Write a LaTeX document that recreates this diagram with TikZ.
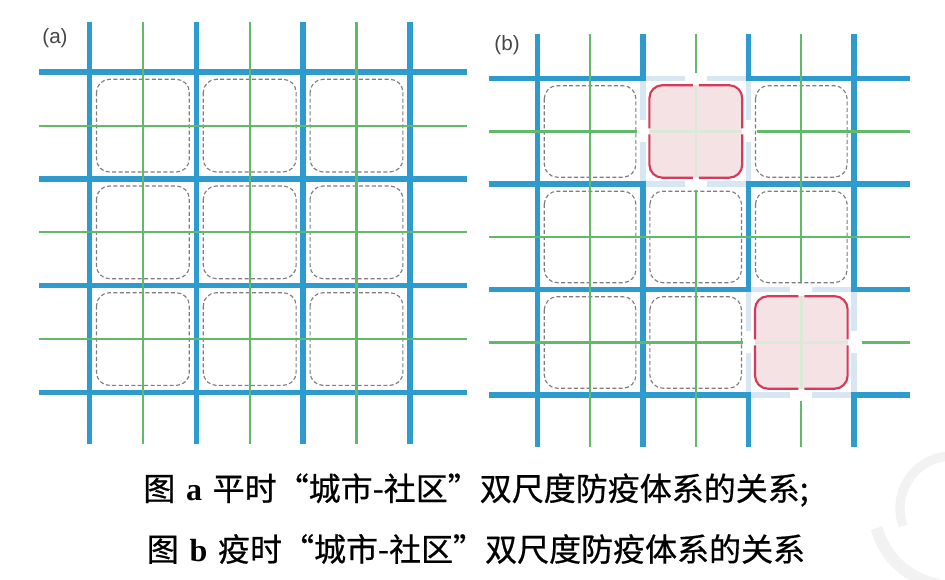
\documentclass[tikz,border=0pt]{standalone}
\usepackage{fontspec}
\newfontfamily\cjkfont{Noto Sans CJK SC}[FakeBold=0.6]
\newfontfamily\lsans{Liberation Sans}
\newfontfamily\lserif{Liberation Serif}
\definecolor{roadblue}{RGB}{45,155,205}
\definecolor{lightroad}{RGB}{214,230,243}
\definecolor{streetgreen}{RGB}{96,186,104}
\definecolor{palegreen}{RGB}{218,234,214}
\definecolor{qred}{RGB}{214,58,88}
\definecolor{qpink}{RGB}{244,226,228}
\definecolor{dashgray}{RGB}{125,125,125}
\definecolor{labelgray}{RGB}{70,70,70}
\definecolor{wmgray}{RGB}{242,242,242}
\newcommand\qbox[4]{%
  \pgfmathsetmacro\qcx{(#1+#3)/2}%
  \pgfmathsetmacro\qcy{(#2+#4)/2}%
  \fill[qpink, rounded corners=9.75pt] (#1,#2) rectangle (#3,#4);
  \draw[paleline] (\qcx,#2) -- (\qcx,#4);
  \draw[paleline] (#1,\qcy) -- (#3,\qcy);
  \draw[qborder] (\qcx-3,#2) -- (#1,#2) -- (#1,\qcy-3);
  \draw[qborder] (\qcx+3,#2) -- (#3,#2) -- (#3,\qcy-3);
  \draw[qborder] (\qcx-3,#4) -- (#1,#4) -- (#1,\qcy+3);
  \draw[qborder] (\qcx+3,#4) -- (#3,#4) -- (#3,\qcy+3);
}
\newcommand\lightsides[4]{%
  \pgfmathsetmacro\qcx{(#1+#3)/2}%
  \pgfmathsetmacro\qcy{(#2+#4)/2}%
  \draw[closedroad] (#1,#2) -- (\qcx-11,#2);
  \draw[closedroad] (\qcx+11,#2) -- (#3,#2);
  \draw[closedroad] (#1,#4) -- (\qcx-11,#4);
  \draw[closedroad] (\qcx+11,#4) -- (#3,#4);
  \draw[closedroad] (#1,#2) -- (#1,\qcy-11);
  \draw[closedroad] (#1,\qcy+11) -- (#1,#4);
  \draw[closedroad] (#3,#2) -- (#3,\qcy-11);
  \draw[closedroad] (#3,\qcy+11) -- (#3,#4);
}
\begin{document}
\begin{tikzpicture}[x=0.75pt,y=-0.75pt,
  road/.style={roadblue, line width=4.2pt},
  closedroad/.style={lightroad, line width=4.2pt},
  street/.style={streetgreen, line width=1.6pt},
  paleline/.style={palegreen, line width=1.8pt},
  qborder/.style={qred, line width=1.6pt, rounded corners=9.75pt},
  community/.style={draw=dashgray, line width=0.85pt, dash pattern=on 3pt off 1.8pt, rounded corners=9.75pt},
  panellabel/.style={font=\lsans\fontsize{15.5}{15.5}\selectfont, text=labelgray},
  caption/.style={font=\cjkfont\fontsize{24}{24}\selectfont, text=black}]
\useasboundingbox (0,0) rectangle (945,580);
\fill[white] (0,0) rectangle (945,580);
% watermark
\draw[wmgray, line width=7pt] (952,508) ++(265:52) arc[start angle=265, end angle=160, radius=52];
\draw[wmgray, line width=9pt] (952,508) ++(165:78) arc[start angle=165, end angle=100, radius=78];
% ---------- panel (a) ----------
\foreach \i in {0,1,2} \foreach \j in {0,1,2} {
  \draw[community] ({89.5+106.8*\i+7},{72.3+106.7*\j+7}) rectangle ({89.5+106.8*(\i+1)-7},{72.3+106.7*(\j+1)-7});
}
\foreach \i in {0,...,3} {
  \draw[road] ({89.5+106.8*\i},22) -- ({89.5+106.8*\i},444);
  \draw[road] (39,{72.3+106.7*\i}) -- (467,{72.3+106.7*\i});
}
\foreach \i in {0,1,2} {
  \draw[street] ({89.5+106.8*\i+53.4},22) -- ({89.5+106.8*\i+53.4},444);
  \draw[street] (39,{72.3+106.7*\i+53.35}) -- (467,{72.3+106.7*\i+53.35});
}
\node[panellabel] (la) at (55,38.5) {(a)};
% ---------- panel (b) ----------
\def\Xa{537.3}\def\Xb{642.9}\def\Xc{748.5}\def\Xd{854.1}
\def\Ya{78.7}\def\Yb{184.2}\def\Yc{289.7}\def\Yd{395.2}
\def\Bt{34}\def\Bb{447}\def\Bl{489}\def\Br{910}
\foreach \i in {0,1,2} \foreach \j in {0,1,2} {
  \pgfmathtruncatemacro\skip{(\i==1 && \j==0) || (\i==2 && \j==2) ? 1 : 0}
  \ifnum\skip=0
  \draw[community] ({537.3+105.6*\i+7},{78.7+105.5*\j+7}) rectangle ({537.3+105.6*(\i+1)-7},{78.7+105.5*(\j+1)-7});
  \fi
}
\lightsides{\Xb}{\Ya}{\Xc}{\Yb}
\lightsides{\Xc}{\Yc}{\Xd}{\Yd}
\draw[road] (\Xa,\Bt) -- (\Xa,\Bb);
\draw[road] (\Bl,\Ya) -- (\Xb,\Ya) -- (\Xb,\Bt);
\draw[road] (\Xc,\Bt) -- (\Xc,\Ya) -- (\Br,\Ya);
\draw[road] (\Bl,\Yb) -- (\Xb,\Yb) -- (\Xb,\Bb);
\draw[road] (\Br,\Yb) -- (\Xc,\Yb) -- (\Xc,\Yc) -- (\Bl,\Yc);
\draw[road] (\Xd,\Bt) -- (\Xd,\Yc) -- (\Br,\Yc);
\draw[road] (\Bl,\Yd) -- (\Xc,\Yd) -- (\Xc,\Bb);
\draw[road] (\Br,\Yd) -- (\Xd,\Yd) -- (\Xd,\Bb);
% green streets
\draw[street] (590.1,\Bt) -- (590.1,\Bb);
\draw[street] (695.7,\Bt) -- (695.7,73);
\draw[street] (695.7,190.5) -- (695.7,\Bb);
\draw[street] (801.3,\Bt) -- (801.3,282.5);
\draw[street] (801.3,401) -- (801.3,\Bb);
\draw[street] (\Bl,131.45) -- (636.5,131.45);
\draw[street] (756.5,131.45) -- (\Br,131.45);
\draw[street] (\Bl,236.95) -- (\Br,236.95);
\draw[street] (\Bl,342.45) -- (743,342.45);
\draw[street] (861.5,342.45) -- (\Br,342.45);
% quarantined communities
\qbox{649.4}{85.2}{742.2}{177.7}
\qbox{755.0}{296.2}{847.6}{388.7}
\node[panellabel] (lb) at (507,45) {(b)};
% ---------- captions ----------
\node[caption] (capa) at (476,490) {图\hspace{8pt}{\lserif\bfseries a}\hspace{8pt}平时“城市-社区”双尺度防疫体系的关系;};
\node[caption] (capb) at (476,549) {图\hspace{8pt}{\lserif\bfseries b}\hspace{8pt}疫时“城市-社区”双尺度防疫体系的关系};
\end{tikzpicture}
\end{document}
